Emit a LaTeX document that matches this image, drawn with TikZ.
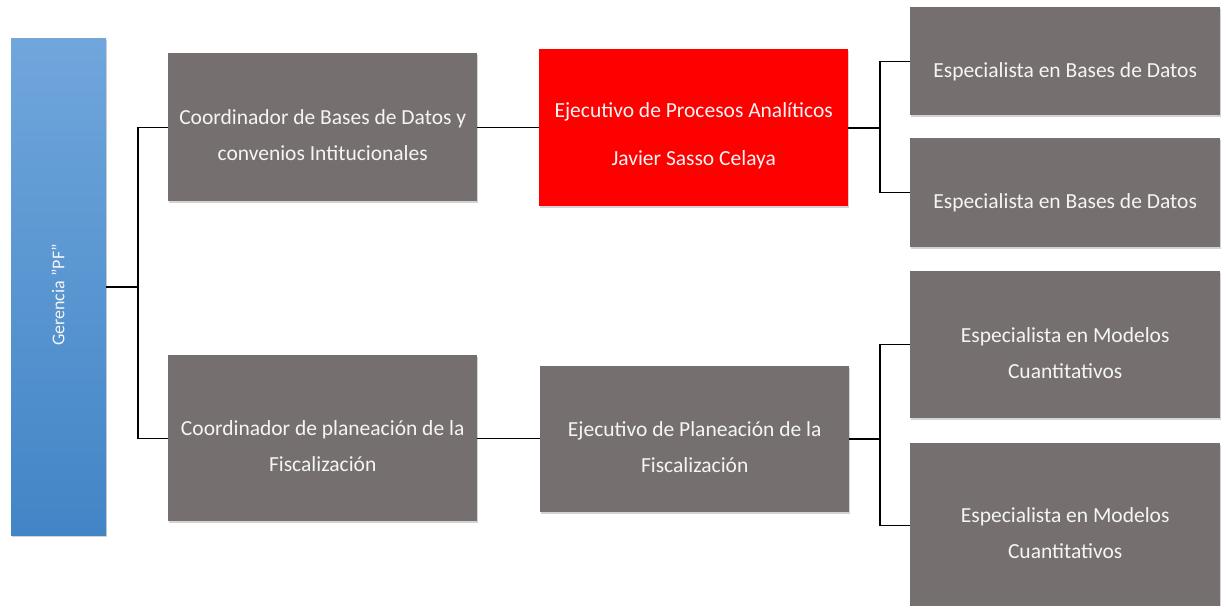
\documentclass[tikz,border=0pt]{standalone}
\usepackage{fontspec}
\setmainfont{Carlito}
\usetikzlibrary{shadows}
\definecolor{boxgray}{RGB}{117,112,111}
\definecolor{boxred}{RGB}{255,0,0}
\definecolor{bartop}{RGB}{112,166,220}
\definecolor{barbot}{RGB}{66,133,198}
\definecolor{txt}{RGB}{245,245,245}
\tikzset{
  orgbox/.style={rectangle, fill=boxgray, inner sep=0pt, anchor=north west,
    drop shadow={opacity=0.35, shadow xshift=1pt, shadow yshift=-2pt}},
  redbox/.style={orgbox, fill=boxred},
  lbl/.style={text=txt, align=center, font=\fontsize{21.5}{36}\selectfont, yshift=-8pt},
  conn/.style={draw=black, line width=1.2pt}
}
\begin{document}
\begin{tikzpicture}[x=1pt,y=-1pt]
\useasboundingbox (0,0) rectangle (1222,605);
\node[rectangle, inner sep=0pt, anchor=north west, minimum width=95pt, minimum height=497pt,
  top color=bartop, bottom color=barbot,
  drop shadow={opacity=0.35, shadow xshift=1pt, shadow yshift=-2pt}] (ger) at (11,38) {};
\node[text=txt, font=\fontsize{18}{22}\selectfont, rotate=90] (gert) at (58,295) {Gerencia \symbol{34}PF\symbol{34}};

\node[orgbox, minimum width=309pt, minimum height=148pt,
  label={[lbl]center:Coordinador de Bases de Datos y\\convenios Intitucionales}] (c1) at (168,53) {};
\node[redbox, minimum width=309pt, minimum height=157pt,
  label={[lbl, font=\fontsize{21.5}{48}\selectfont, yshift=0pt]center:Ejecutivo de Procesos Analíticos\\Javier Sasso Celaya}] (e1) at (539,49) {};
\node[orgbox, minimum width=310pt, minimum height=108pt,
  label={[lbl, yshift=-3pt]center:Especialista en Bases de Datos}] (s1) at (910,7) {};
\node[orgbox, minimum width=310pt, minimum height=109pt,
  label={[lbl, yshift=-2pt]center:Especialista en Bases de Datos}] (s2) at (910,138) {};
\node[orgbox, minimum width=309pt, minimum height=166pt,
  label={[lbl]center:Coordinador de planeación de la\\Fiscalización}] (c2) at (168,355) {};
\node[orgbox, minimum width=309pt, minimum height=146pt,
  label={[lbl]center:Ejecutivo de Planeación de la\\Fiscalización}] (e2) at (540,366) {};
\node[orgbox, minimum width=310pt, minimum height=147pt,
  label={[lbl]center:Especialista en Modelos\\Cuantitativos}] (s3) at (910,271) {};
\node[orgbox, minimum width=310pt, minimum height=164pt,
  label={[lbl]center:Especialista en Modelos\\Cuantitativos}] (s4) at (910,443) {};

\coordinate (j0) at (138,287);
\coordinate (j1) at (880,128);
\coordinate (j2) at (880,439);
\draw[conn] (ger.east |- j0) -- (j0);
\draw[conn] (j0) |- (c1.west);
\draw[conn] (j0) |- (c2.west);
\draw[conn] (c1.east) -- (e1.west |- c1.east);
\draw[conn] (c2.east) -- (e2.west |- c2.east);
\draw[conn] (e1.east |- j1) -- (j1);
\draw[conn] (j1) |- (s1.west);
\draw[conn] (j1) |- (s2.west);
\draw[conn] (e2.east |- j2) -- (j2);
\draw[conn] (j2) |- (s3.west);
\draw[conn] (j2) |- (s4.west);
\end{tikzpicture}
\end{document}
